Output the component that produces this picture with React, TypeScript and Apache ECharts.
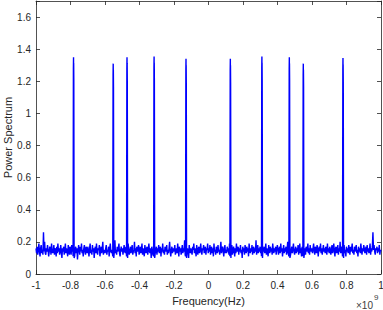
import React, { useEffect, useRef } from "react";
import * as echarts from "echarts";

// Peak centre frequencies (x 1e9 Hz) and their heights
const peakFreqs = [-0.782, -0.552, -0.472, -0.315, -0.13, 0.127, 0.31, 0.469, 0.55, 0.78];
const peakHeights = [1.35, 1.31, 1.35, 1.355, 1.34, 1.34, 1.355, 1.35, 1.31, 1.345];
// Shape of each peak: frequency offsets and levels (level < 1 means absolute, else relative to height)
const peakOffsets = [-0.003, -0.0012, -0.0004, 0, 0.0004, 0.0012, 0.003];
const peakLevels = [0.11, 1.28, 1.35, 1.22, 1.31, 1.2, 0.1];

// Noise floor readings, in hundredths, evenly spread from -1 to 1 (x 1e9 Hz)
const noiseFloor = [
  16,13,17,12,15,19,14,11,16,18,13,15,12,26,14,20,13,12,16,14,18,15,11,14,17,16,12,19,15,13,
  14,18,12,16,15,11,17,13,19,14,16,12,15,18,13,10,16,14,17,12,15,19,13,16,14,11,18,15,12,17,
  15,12,18,14,16,13,20,11,15,17,13,16,9,14,18,15,12,17,14,19,13,15,11,16,18,14,12,17,15,13,
  17,14,11,16,19,13,15,12,18,14,16,10,15,17,13,19,14,12,16,15,18,11,14,17,13,16,20,12,15,14,
  13,16,18,12,15,14,17,11,16,19,14,13,15,18,12,16,14,21,13,15,12,17,14,16,19,13,11,15,17,14,
  16,12,15,18,14,13,17,15,11,16,19,14,12,15,17,13,16,18,12,14,15,20,13,16,11,17,14,15,18,12,
  14,17,13,15,19,12,16,14,11,18,15,13,16,17,12,15,19,14,13,16,10,17,15,12,18,14,16,13,15,17,
  12,16,14,18,13,15,17,11,16,14,19,13,15,12,17,16,14,18,12,15,13,16,20,14,11,15,17,13,16,14,
  15,18,12,14,16,13,19,15,11,17,14,16,12,15,18,13,16,14,21,12,15,17,13,16,14,10,18,15,13,16,
  14,12,17,15,19,13,16,14,11,18,15,12,16,17,13,15,19,14,12,16,15,18,13,14,17,12,16,15,19,13,
  16,14,18,12,15,17,13,16,11,19,14,15,12,17,16,13,18,14,15,12,16,20,13,15,17,14,11,16,18,13,
  15,13,17,14,16,12,19,15,13,16,18,12,14,17,15,11,16,13,19,14,15,17,12,16,14,18,13,15,10,17,
  14,16,12,18,15,13,17,14,16,11,19,15,13,16,14,18,12,15,17,13,16,14,21,12,15,18,13,16,14,17,
  13,15,18,12,16,14,17,13,15,19,12,16,14,11,18,15,13,17,14,16,12,19,15,13,16,14,17,12,15,18,
  16,12,15,17,13,19,14,16,11,15,18,13,16,14,17,12,15,20,13,16,14,18,12,15,17,13,16,19,14,12,
  15,17,13,16,14,18,12,15,19,13,16,11,17,14,15,18,13,16,12,17,15,14,19,13,16,12,18,15,14,16,
  13,16,19,14,12,17,15,13,18,16,11,15,17,14,19,13,16,12,15,18,14,16,13,17,15,12,19,14,16,13,
  17,14,12,16,18,13,15,19,14,11,16,17,13,15,18,12,16,14,20,13,15,17,12,16,14,18,13,15,11,17,
  14,16,13,18,15,12,17,14,16,19,13,15,12,17,14,16,18,13,15,11,17,14,16,13,19,15,12,16,14,18,
  16,13,15,17,12,18,14,16,13,15,19,12,16,14,17,26,15,18,14,12,16,15,17,13,16,14,18,12,15,14,
];

const xMin = -1;
const xMax = 1;
const xStep = 0.2;
const yMin = 0;
const yMax = 1.7;
const yStep = 0.2;

function buildData(): [number, number][] {
  const n = noiseFloor.length;
  const pts: [number, number][] = [];
  for (let i = 0; i < n; i++) {
    const x = xMin + ((xMax - xMin) * i) / (n - 1);
    if (peakFreqs.some((f) => Math.abs(x - f) < 0.004)) continue;
    pts.push([x, noiseFloor[i] / 100]);
  }
  peakFreqs.forEach((f, k) => {
    const h = peakHeights[k];
    peakOffsets.forEach((o, j) => {
      const lv = peakLevels[j];
      const y = lv < 1 ? lv : lv * (h / 1.35);
      pts.push([f + o, y]);
    });
  });
  pts.sort((a, b) => a[0] - b[0]);
  return pts;
}

const FONT = "'Liberation Sans', Arial, Helvetica, sans-serif";
const AXIS_COLOR = "#262626";

export default function App() {
  const ref = useRef<HTMLDivElement>(null);
  useEffect(() => {
    if (!ref.current) return;
    const chart = echarts.init(ref.current, undefined, { renderer: "svg" });
    const fmt = (v: number) => {
      const r = Math.round(v * 10) / 10;
      if (r > 1.65) return "";
      return String(r);
    };
    const common = {
      axisLine: { show: true, onZero: false, lineStyle: { color: AXIS_COLOR, width: 0.8 } },
      axisTick: { show: true, inside: true, length: 4, lineStyle: { color: AXIS_COLOR, width: 0.8 } },
      splitLine: { show: false },
    };
    chart.setOption({
      animation: false,
      backgroundColor: "#ffffff",
      grid: { left: 36, right: 2, top: 1, bottom: 36, containLabel: false, outerBoundsMode: "none" },
      xAxis: [
        {
          type: "value",
          min: xMin,
          max: xMax,
          interval: xStep,
          position: "bottom",
          ...common,
          axisLabel: { color: AXIS_COLOR, fontSize: 10, fontFamily: FONT, margin: 6, formatter: fmt },
          name: "Frequency(Hz)",
          nameLocation: "middle",
          nameGap: 21,
          nameTextStyle: { color: AXIS_COLOR, fontSize: 11, fontFamily: FONT },
        },
        {
          type: "value",
          min: xMin,
          max: xMax,
          interval: xStep,
          position: "top",
          ...common,
          axisLabel: { show: false },
        },
      ],
      yAxis: [
        {
          type: "value",
          min: yMin,
          max: yMax,
          interval: yStep,
          position: "left",
          ...common,
          axisLabel: { color: AXIS_COLOR, fontSize: 10, fontFamily: FONT, margin: 5, formatter: fmt },
          name: "Power Spectrum",
          nameLocation: "middle",
          nameGap: 23,
          nameMoveOverlap: false,
          nameTextStyle: { color: AXIS_COLOR, fontSize: 11, fontFamily: FONT },
        },
        {
          type: "value",
          min: yMin,
          max: yMax,
          interval: yStep,
          position: "right",
          ...common,
          axisLabel: { show: false },
        },
      ],
      graphic: [
        {
          type: "text",
          left: 356,
          top: 300,
          style: { text: "×10", fontSize: 10, fontFamily: FONT, fill: "#404040" },
        },
        {
          type: "text",
          left: 374,
          top: 293,
          style: { text: "9", fontSize: 8, fontFamily: FONT, fill: "#404040" },
        },
      ],
      series: [
        {
          type: "line",
          data: buildData(),
          showSymbol: false,
          symbol: "none",
          lineStyle: { color: "#0000ff", width: 1.4 },
          itemStyle: { color: "#0000ff" },
          silent: true,
        },
      ],
    });
    return () => chart.dispose();
  }, []);
  return (
    <div
      ref={ref}
      style={{ position: "fixed", left: 0, top: 0, width: 383, height: 310, background: "#fff" }}
    />
  );
}
